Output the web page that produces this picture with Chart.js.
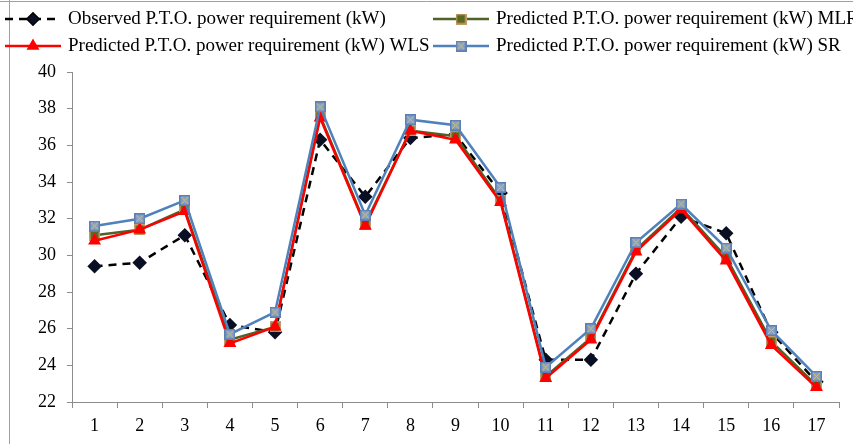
<!DOCTYPE html>
<html>
<head>
<meta charset="utf-8">
<script src="https://cdn.jsdelivr.net/npm/chart.js@4"></script>
<style>
  html, body { margin: 0; padding: 0; background: #fff; }
  #wrap { width: 853px; height: 444px; position: relative; }
</style>
</head>
<body>
<div id="wrap"><canvas id="ptoChart"></canvas></div>
<script>
const labels = ['1','2','3','4','5','6','7','8','9','10','11','12','13','14','15','16','17'];
const observed = [29.4, 29.6, 31.1, 26.2, 25.8, 36.3, 33.2, 36.4, 36.6, 33.4, 24.3, 24.3, 29.0, 32.1, 31.2, 25.8, 23.1];
const predMLR = [31.1, 31.4, 32.5, 25.4, 26.1, 37.6, 31.7, 36.8, 36.5, 33.0, 23.4, 25.5, 30.3, 32.6, 29.9, 25.3, 22.9];
const predWLS = [30.8, 31.4, 32.4, 25.2, 26.1, 37.5, 31.6, 36.8, 36.3, 32.9, 23.3, 25.4, 30.2, 32.5, 29.7, 25.1, 22.8];
const predSR = [31.6, 32.0, 33.0, 25.7, 26.9, 38.1, 32.2, 37.4, 37.1, 33.7, 23.9, 26.0, 30.7, 32.8, 30.4, 25.9, 23.4];
const legendNames = [
  'Observed P.T.O. power requirement (kW)',
  'Predicted P.T.O. power requirement (kW) MLR',
  'Predicted P.T.O. power requirement (kW) WLS',
  'Predicted P.T.O. power requirement (kW) SR'
];

const FONT = '"Liberation Serif", "Times New Roman", serif';
const AXIS_GRAY = '#8c8c8c';

// marker images for the square series
function squareMarker(fill, stroke, cross) {
  const c = document.createElement('canvas');
  c.width = 11; c.height = 11;
  const g = c.getContext('2d');
  g.fillStyle = fill;
  g.fillRect(0, 0, 11, 11);
  g.strokeStyle = stroke;
  g.lineWidth = 1.5;
  g.strokeRect(0.75, 0.75, 9.5, 9.5);
  if (cross) {
    g.strokeStyle = cross;
    g.lineWidth = 1;
    g.beginPath();
    g.moveTo(2, 2); g.lineTo(9, 9);
    g.moveTo(9, 2); g.lineTo(2, 9);
    g.stroke();
  }
  return c;
}
const mlrMarker = squareMarker('#5a6a1e', '#c49a6c');
const srMarker = squareMarker('#8a9fbf', '#5b7fb8', '#c8c87a');

// legend drawn on the canvas, two rows by two columns
const legendPlugin = {
  id: 'sideLegend',
  afterDraw(chart) {
    const ctx = chart.ctx;
    ctx.save();
    // frame lines of the original picture
    ctx.strokeStyle = '#a0a0a0';
    ctx.lineWidth = 1;
    ctx.beginPath();
    ctx.moveTo(0, 1.5); ctx.lineTo(853, 1.5);
    ctx.moveTo(9.5, 0); ctx.lineTo(9.5, 444);
    ctx.stroke();

    const items = [
      { x: 5, y: 19, ds: 0 },
      { x: 433, y: 19, ds: 1 },
      { x: 5, y: 46, ds: 2 },
      { x: 433, y: 46, ds: 3 }
    ];
    items.forEach(it => {
      const d = chart.data.datasets[it.ds];
      ctx.strokeStyle = d.borderColor;
      ctx.lineWidth = d.borderWidth;
      ctx.setLineDash(d.borderDash || []);
      ctx.beginPath();
      ctx.moveTo(it.x, it.y);
      ctx.lineTo(it.x + 56, it.y);
      ctx.stroke();
      ctx.setLineDash([]);
      const mx = it.x + 28;
      if (d.pointStyle instanceof HTMLCanvasElement) {
        ctx.drawImage(d.pointStyle, mx - 5.5, it.y - 5.5);
      } else {
        Chart.helpers.drawPoint(ctx, {
          pointStyle: d.pointStyle,
          radius: d.pointRadius,
          borderWidth: 1
        }, mx, it.y);
        ctx.fillStyle = d.pointBackgroundColor;
        ctx.fill();
      }
      ctx.fillStyle = '#000';
      ctx.font = '19px ' + FONT;
      ctx.textBaseline = 'middle';
      ctx.textAlign = 'left';
      ctx.fillText(legendNames[it.ds], it.x + 63, it.y);
    });
    ctx.restore();
  }
};

new Chart(document.getElementById('ptoChart'), {
  type: 'line',
  data: {
    labels: labels,
    datasets: [
      {
        label: legendNames[0],
        data: observed,
        borderColor: '#000000',
        borderWidth: 2.5,
        borderDash: [8, 6],
        pointStyle: 'rectRot',
        pointRadius: 5.5,
        pointBackgroundColor: '#0a0f24',
        pointBorderColor: '#0a0f24',
        order: 4
      },
      {
        label: legendNames[1],
        data: predMLR,
        borderColor: '#4f6228',
        borderWidth: 2.5,
        pointStyle: mlrMarker,
        pointBackgroundColor: '#5a6a1e',
        order: 3
      },
      {
        label: legendNames[2],
        data: predWLS,
        borderColor: '#ff0000',
        borderWidth: 2.5,
        pointStyle: 'triangle',
        pointRadius: 5,
        pointBackgroundColor: '#ff0000',
        pointBorderColor: '#ff0000',
        order: 2
      },
      {
        label: legendNames[3],
        data: predSR,
        borderColor: '#4f81bd',
        borderWidth: 2.5,
        pointStyle: srMarker,
        pointBackgroundColor: '#8a9fbf',
        order: 1
      }
    ]
  },
  options: {
    responsive: true,
    maintainAspectRatio: false,
    animation: false,
    elements: { line: { tension: 0 } },
    layout: { padding: { top: 72, right: 14, left: 0, bottom: 0 } },
    plugins: {
      legend: { display: false },
      tooltip: { enabled: false }
    },
    scales: {
      x: {
        offset: true,
        afterFit(scale) { scale.height = 42; },
        grid: {
          offset: true,
          drawOnChartArea: false,
          tickLength: 6,
          color: AXIS_GRAY
        },
        border: { color: AXIS_GRAY, width: 1 },
        ticks: {
          color: '#000',
          padding: 7,
          maxRotation: 0,
          font: { family: FONT, size: 18 }
        }
      },
      y: {
        min: 22,
        max: 40,
        afterFit(scale) { scale.width = 72; },
        grid: {
          drawOnChartArea: false,
          tickLength: 5,
          color: AXIS_GRAY
        },
        border: { color: AXIS_GRAY, width: 1 },
        ticks: {
          stepSize: 2,
          color: '#000',
          padding: 11,
          font: { family: FONT, size: 18 }
        }
      }
    }
  },
  plugins: [legendPlugin]
});
</script>
</body>
</html>
